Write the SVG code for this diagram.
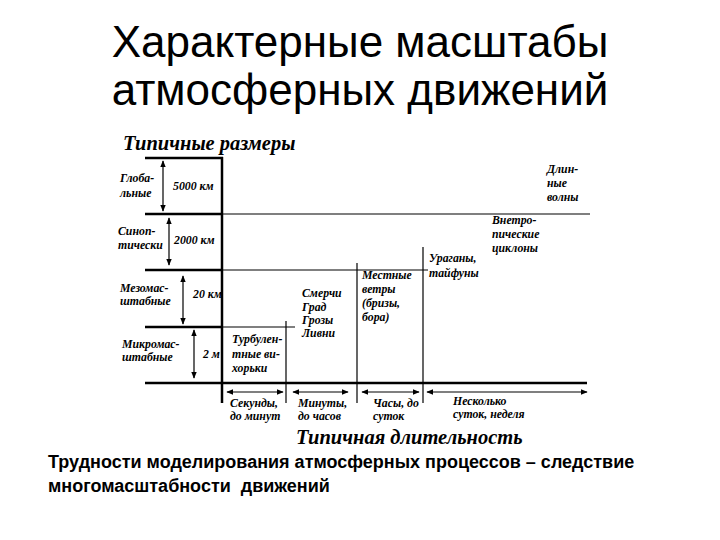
<svg xmlns="http://www.w3.org/2000/svg" width="720" height="540" viewBox="0 0 720 540">
<defs>
<marker id="ah" viewBox="0 0 10 10" refX="9" refY="5" markerWidth="7" markerHeight="7" orient="auto-start-reverse" markerUnits="userSpaceOnUse">
<path d="M0,1 L10,5 L0,9 Z" fill="#000"/>
</marker>
<style>
.title{font-family:"Liberation Sans",Arial,sans-serif;font-size:44px;fill:#000}
.foot{font-family:"Liberation Sans",Arial,sans-serif;font-size:18px;font-weight:bold;fill:#000;white-space:pre}
.lbl{font-family:"Liberation Serif","Times New Roman",serif;font-size:11.8px;font-weight:bold;font-style:italic;fill:#000}
.big{font-family:"Liberation Serif","Times New Roman",serif;font-size:20.5px;font-weight:bold;font-style:italic;fill:#000}
.thick{stroke:#000;stroke-width:2.5;fill:none}
.thin{stroke:#000;stroke-width:1.2;fill:none}
.arr{stroke:#000;stroke-width:1.2;fill:none;marker-start:url(#ah);marker-end:url(#ah)}
</style>
</defs>
<rect width="720" height="540" fill="#fff"/>
<g id="title">
<text class="title" x="360" y="57" text-anchor="middle">Характерные масштабы</text>
<text class="title" x="360" y="105" text-anchor="middle">атмосферных движений</text>
</g>
<g id="axes">
<line class="thick" x1="145" y1="158" x2="223" y2="158"/>
<line class="thick" x1="222" y1="157" x2="222" y2="403"/>
<line class="thick" x1="145" y1="214" x2="222" y2="214"/>
<line class="thin" x1="222" y1="214" x2="590" y2="214"/>
<line class="thick" x1="145" y1="270" x2="222" y2="270"/>
<line class="thin" x1="222" y1="270" x2="428" y2="270"/>
<line class="thick" x1="145" y1="327" x2="222" y2="327"/>
<line class="thin" x1="222" y1="327" x2="295" y2="327"/>
<line class="thick" x1="145" y1="383" x2="587" y2="383"/>
<line class="thin" x1="286" y1="321" x2="286" y2="403"/>
<line class="thin" x1="357" y1="263" x2="357" y2="403"/>
<line class="thin" x1="423" y1="247" x2="423" y2="403"/>
<text class="big" x="123" y="150">Типичные размеры</text>
<text class="big" x="296" y="444">Типичная длительность</text>
</g>
<g id="connectors">
<line class="arr" x1="163" y1="161" x2="163" y2="211"/>
<line class="arr" x1="169" y1="218" x2="169" y2="265"/>
<line class="arr" x1="183" y1="276" x2="183" y2="324"/>
<line class="arr" x1="194" y1="330" x2="194" y2="378"/>
<line class="arr" x1="227" y1="392" x2="283" y2="392"/>
<line class="arr" x1="293" y1="392" x2="348" y2="392"/>
<line class="arr" x1="362" y1="392" x2="419" y2="392"/>
<line class="arr" x1="427" y1="392" x2="587" y2="392"/>
</g>
<g id="global">
<text class="lbl" x="120" y="182">Глоба-</text>
<text class="lbl" x="120" y="197">льные</text>
<text class="lbl" x="173" y="190">5000 км</text>
</g>
<g id="synoptic">
<text class="lbl" x="118" y="235">Синоп-</text>
<text class="lbl" x="118" y="249">тически</text>
<text class="lbl" x="174" y="244">2000 км</text>
</g>
<g id="meso">
<text class="lbl" x="120" y="292">Мезомас-</text>
<text class="lbl" x="120" y="305">штабные</text>
<text class="lbl" x="193" y="298">20 км</text>
</g>
<g id="micro">
<text class="lbl" x="122" y="348">Микромас-</text>
<text class="lbl" x="122" y="361">штабные</text>
<text class="lbl" x="203" y="358">2 м</text>
</g>
<g id="turbulence">
<text class="lbl" x="232" y="343">Турбулен-</text>
<text class="lbl" x="232" y="358">тные ви-</text>
<text class="lbl" x="232" y="372">хорьки</text>
</g>
<g id="storms">
<text class="lbl" x="302" y="297">Смерчи</text>
<text class="lbl" x="302" y="311">Град</text>
<text class="lbl" x="302" y="324">Грозы</text>
<text class="lbl" x="302" y="337">Ливни</text>
</g>
<g id="local-winds">
<text class="lbl" x="362" y="279">Местные</text>
<text class="lbl" x="362" y="293">ветры</text>
<text class="lbl" x="362" y="307">(бризы,</text>
<text class="lbl" x="362" y="321">бора)</text>
</g>
<g id="hurricanes">
<text class="lbl" x="429" y="262">Ураганы,</text>
<text class="lbl" x="429" y="277">тайфуны</text>
</g>
<g id="cyclones">
<text class="lbl" x="492" y="224">Внетро-</text>
<text class="lbl" x="492" y="238">пические</text>
<text class="lbl" x="492" y="252">циклоны</text>
</g>
<g id="long-waves">
<text class="lbl" x="547" y="173">Длин-</text>
<text class="lbl" x="547" y="187">ные</text>
<text class="lbl" x="547" y="201">волны</text>
</g>
<g id="seconds">
<text class="lbl" x="230" y="407">Секунды,</text>
<text class="lbl" x="230" y="420">до минут</text>
</g>
<g id="minutes">
<text class="lbl" x="298" y="407">Минуты,</text>
<text class="lbl" x="298" y="420">до часов</text>
</g>
<g id="hours">
<text class="lbl" x="373" y="407">Часы, до</text>
<text class="lbl" x="373" y="420">суток</text>
</g>
<g id="days">
<text class="lbl" x="453" y="405">Несколько</text>
<text class="lbl" x="453" y="418">суток, неделя</text>
</g>
<g id="footer">
<text class="foot" x="48" y="468">Трудности моделирования атмосферных процессов – следствие</text>
<text class="foot" x="48" y="492">многомасштабности  движений</text>
</g>
</svg>
